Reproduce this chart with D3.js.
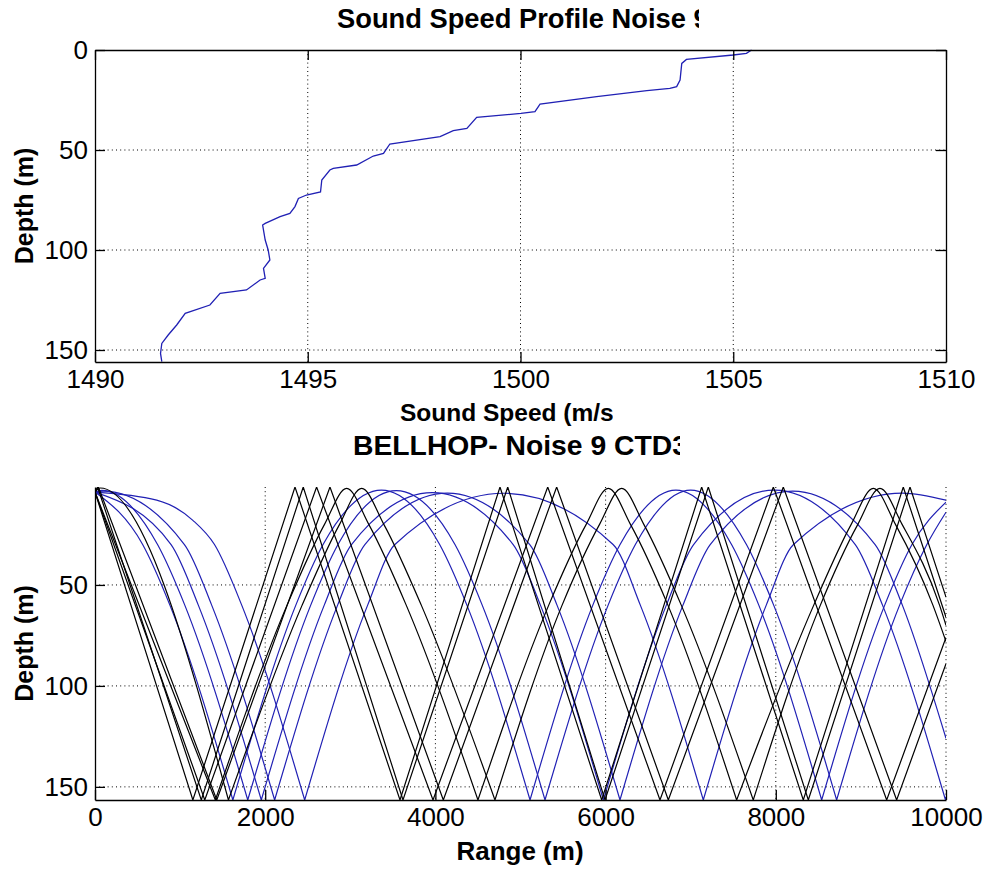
<!DOCTYPE html>
<html>
<head>
<meta charset="utf-8">
<script src="https://cdn.jsdelivr.net/npm/d3@7"></script>
<style>
  body { margin: 0; background: #fff; }
  svg text { font-family: "Liberation Sans", Arial, Helvetica, sans-serif; fill: #000; }
  .tick text { font-size: 26px; }
  .label { font-weight: bold; }
</style>
</head>
<body>
<div id="chart"></div>
<script>
// ---- sound speed profile ----
const sspDepth = [0, 1.7, 2.5, 4.7, 6.7, 15, 18.3, 19.2, 20.3, 23.3, 27, 28.3, 30.8, 31.7, 33.7, 39.2, 40.3, 43.3,
  47, 49.2, 51.7, 53, 57.5, 59.2, 60, 65, 71, 72.5, 74.2, 78.3, 81.7, 83.3, 86.7, 87.5, 95, 100, 105, 109.2,
  114.2, 115, 120, 121.7, 127.5, 131.7, 137.5, 142.5, 146.7, 151.7, 155.8];
const sspSpeed = [1505.43, 1505.31, 1505.0, 1503.9, 1503.79, 1503.75, 1503.67, 1503.51, 1502.97, 1501.79, 1500.46,
  1500.42, 1500.34, 1500.01, 1498.97, 1498.74, 1498.42, 1498.11, 1496.93, 1496.86, 1496.78, 1496.54, 1496.15,
  1495.6, 1495.52, 1495.33, 1495.3, 1494.97, 1494.78, 1494.7, 1494.58, 1494.35, 1494.0, 1493.94, 1494.0, 1494.07,
  1494.11, 1493.96, 1494.0, 1493.88, 1493.56, 1492.94, 1492.7, 1492.12, 1491.92, 1491.72, 1491.57, 1491.54, 1491.57];

const speedTicks = [1490, 1495, 1500, 1505, 1510];
const topDepthTicks = [0, 50, 100, 150];
const rangeTicks = [0, 2000, 4000, 6000, 8000, 10000];
const rayDepthTicks = [50, 100, 150];

// ---- BELLHOP rays: [range m, depth m] turning / shoulder points ----
const SURFACE = 1.5, BOTTOM = 156.5;

// surface + bottom reflected rays (black)
const blackRays = [
  [[0, 4], [1150, 156.5], [2350, 1.5], [3584, 156.5], [4759, 1.5], [5954, 156.5], [7129, 1.5], [8323, 156.5], [9498, 1.5], [10000, 66]],
  [[0, 4], [30, 1.5], [1249, 156.5], [2447, 1.5], [3619, 156.5], [4850, 1.5], [5993, 156.5], [7207, 1.5], [8382, 156.5], [9577, 1.5], [10000, 56]],
  [[0, 4], [1290, 156.5], [2604, 1.5], [3972, 156.5], [5320, 1.5], [6639, 156.5], [7971, 1.5], [9303, 156.5], [10000, 76]],
  [[0, 4], [40, 1.5], [1431, 156.5], [2761, 1.5], [4093, 156.5], [5425, 1.5], [6737, 156.5], [8088, 1.5], [9420, 156.5], [10000, 89]],
  [[0, 4], [1414, 156.5], [2257, 60], [2697, 20], [2957, 2.2], [3217, 20], [3657, 60], [4500, 156.5],
   [5332, 60], [5772, 20], [6032, 2.2], [6292, 20], [6732, 60], [7540, 156.5],
   [8446, 60], [8886, 20], [9146, 2.2], [9406, 20], [9846, 60], [10000, 78]],
  [[0, 4], [60, 2], [1568, 156.5], [2434, 60], [2874, 20], [3134, 2.2], [3394, 20], [3834, 60], [4700, 156.5],
   [5489, 60], [5929, 20], [6189, 2.2], [6449, 20], [6889, 60], [7735, 156.5],
   [8524, 60], [8964, 20], [9224, 2.2], [9484, 20], [9924, 60], [10000, 70]]
];

// bottom-only rays, refracted below the surface (blue)
const blueRays = [
  [[0, 4], [560, 30], [880, 60], [1620, 156.5],
   [2360, 60], [2680, 30], [3366, 3], [4050, 30], [4370, 60], [5112, 156.5],
   [5850, 60], [6170, 30], [6826, 3], [7480, 30], [7800, 60], [8539, 156.5],
   [9280, 60], [9600, 30], [10000, 9]],
  [[0, 4], [80, 3.2], [735, 30], [1055, 60], [1795, 156.5],
   [2535, 60], [2855, 30], [3541, 3.3], [4230, 30], [4550, 60], [5288, 156.5],
   [6030, 60], [6350, 30], [7000, 3], [7655, 30], [7975, 60], [8715, 156.5],
   [9455, 60], [9775, 30], [10000, 14]],
  [[0, 4], [894, 30], [1214, 60], [1954, 156.5],
   [2694, 60], [3014, 30], [3964, 4.3], [4914, 30], [5234, 60], [5974, 156.5],
   [6714, 60], [7034, 30], [7984, 3], [8934, 30], [9254, 60], [9994, 156.5], [10000, 155]],
  [[0, 4], [100, 3.5], [1051, 30], [1371, 60], [2111, 156.5],
   [2851, 60], [3171, 30], [4140, 4.5], [5109, 30], [5429, 60], [6169, 156.5],
   [6909, 60], [7229, 30], [8198, 3.5], [9167, 30], [9487, 60], [10000, 126]],
  [[0, 4], [725, 8], [1150, 18], [1404, 30], [1724, 60], [2464, 156.5],
   [3204, 60], [3524, 30], [4806, 4.6], [6088, 30], [6408, 60], [7148, 156.5],
   [7888, 60], [8208, 30], [9490, 4.5], [10000, 8]]
];

const BLUE = "#2020b4";

const svg = d3.select("#chart").append("svg")
  .attr("width", 986).attr("height", 871);

// ---------- upper panel: sound speed profile ----------
const x1 = d3.scaleLinear().domain([1490, 1510]).range([95, 946]);
const y1 = d3.scaleLinear().domain([0, 156]).range([50, 362]);

const upper = svg.append("g");

upper.selectAll(".vgrid").data(speedTicks.slice(1, -1)).enter().append("line")
  .attr("x1", d => x1(d)).attr("x2", d => x1(d))
  .attr("y1", y1.range()[0]).attr("y2", y1.range()[1])
  .attr("stroke", "#000").attr("stroke-dasharray", "1,3.2");
upper.selectAll(".hgrid").data(topDepthTicks.slice(1)).enter().append("line")
  .attr("y1", d => y1(d)).attr("y2", d => y1(d))
  .attr("x1", x1.range()[0]).attr("x2", x1.range()[1])
  .attr("stroke", "#000").attr("stroke-dasharray", "1,3.2");

upper.append("path")
  .datum(d3.zip(sspSpeed, sspDepth))
  .attr("fill", "none").attr("stroke", BLUE).attr("stroke-width", 1.3)
  .attr("d", d3.line().x(d => x1(d[0])).y(d => y1(d[1])));

upper.append("g").attr("transform", `translate(0,${y1.range()[1]})`)
  .call(d3.axisBottom(x1).tickValues(speedTicks).tickFormat(d3.format("d")).tickSize(-10).tickSizeOuter(0).tickPadding(8));
upper.append("g").attr("transform", `translate(0,${y1.range()[0]})`)
  .call(d3.axisTop(x1).tickValues(speedTicks).tickFormat("").tickSize(-10).tickSizeOuter(0));
upper.append("g").attr("transform", `translate(${x1.range()[0]},0)`)
  .call(d3.axisLeft(y1).tickValues(topDepthTicks).tickSize(-10).tickSizeOuter(0).tickPadding(7));
upper.append("g").attr("transform", `translate(${x1.range()[1]},0)`)
  .call(d3.axisRight(y1).tickValues(topDepthTicks).tickFormat("").tickSize(-10).tickSizeOuter(0));

// ---------- lower panel: ray trace ----------
const x2 = d3.scaleLinear().domain([0, 10000]).range([95, 946]);
const y2 = d3.scaleLinear().domain([SURFACE, BOTTOM]).range([487, 800]);

const lower = svg.append("g");

svg.append("clipPath").attr("id", "rayclip").append("rect")
  .attr("x", x2.range()[0]).attr("y", y2.range()[0])
  .attr("width", x2.range()[1] - x2.range()[0]).attr("height", y2.range()[1] - y2.range()[0]);

lower.selectAll(".vgrid").data(rangeTicks.slice(1)).enter().append("line")
  .attr("x1", d => x2(d)).attr("x2", d => x2(d))
  .attr("y1", y2.range()[0]).attr("y2", y2.range()[1])
  .attr("stroke", "#000").attr("stroke-dasharray", "1,3.2");
lower.selectAll(".hgrid").data(rayDepthTicks).enter().append("line")
  .attr("y1", d => y2(d)).attr("y2", d => y2(d))
  .attr("x1", x2.range()[0]).attr("x2", x2.range()[1])
  .attr("stroke", "#000").attr("stroke-dasharray", "1,3.2");

// split a ray at its boundary reflections so bounces stay sharp
function legs(pts) {
  const out = [];
  let cur = [pts[0]];
  for (let i = 1; i < pts.length; i++) {
    cur.push(pts[i]);
    const dep = pts[i][1];
    if ((dep <= SURFACE || dep >= BOTTOM) && i < pts.length - 1) {
      out.push(cur);
      cur = [pts[i]];
    }
  }
  out.push(cur);
  return out;
}
const rayLine = d3.line().x(d => x2(d[0])).y(d => y2(d[1])).curve(d3.curveMonotoneX);

const rays = lower.append("g").attr("clip-path", "url(#rayclip)");
rays.selectAll(".blue").data(blueRays).enter().append("path")
  .attr("fill", "none").attr("stroke", BLUE).attr("stroke-width", 1.2)
  .attr("d", d => legs(d).map(rayLine).join(""));
rays.selectAll(".black").data(blackRays).enter().append("path")
  .attr("fill", "none").attr("stroke", "#000").attr("stroke-width", 1.2)
  .attr("d", d => legs(d).map(rayLine).join(""));

lower.append("g").attr("transform", `translate(0,${y2.range()[1]})`)
  .call(d3.axisBottom(x2).tickValues(rangeTicks).tickFormat(d3.format("d")).tickSize(-10).tickSizeOuter(0).tickPadding(8));
lower.append("g").attr("transform", `translate(${x2.range()[0]},0)`)
  .call(d3.axisLeft(y2).tickValues(rayDepthTicks).tickSize(-10).tickSizeOuter(0).tickPadding(7));

svg.selectAll(".domain").attr("stroke", "#000").attr("stroke-width", 1.3);
svg.selectAll(".tick line").attr("stroke", "#000").attr("stroke-width", 1.3);
svg.selectAll(".tick text").attr("fill", "#000").style("font-size", "26px")
  .style("font-family", "'Liberation Sans', Arial, sans-serif");

// ---------- titles and labels (clipped like the original bitmap text) ----------
function clippedText(id, txt, x, y, clipRight, size) {
  svg.append("clipPath").attr("id", id).append("rect")
    .attr("x", 0).attr("y", 0).attr("width", clipRight).attr("height", 871);
  svg.append("text").attr("class", "label")
    .attr("clip-path", `url(#${id})`)
    .style("font-size", size + "px")
    .attr("x", x).attr("y", y).text(txt);
}
clippedText("c1", "Sound Speed Profile Noise 9", 337, 28, 699, 27.3);
clippedText("c2", "Sound Speed (m/s)", 400, 421, 613, 24.5);
clippedText("c3", "BELLHOP- Noise 9 CTD3", 353, 455, 680, 28.3);

svg.append("text").attr("class", "label").attr("text-anchor", "middle")
  .style("font-size", "26px")
  .attr("x", 520).attr("y", 860).text("Range (m)");
svg.append("text").attr("class", "label").attr("text-anchor", "middle")
  .style("font-size", "25px")
  .attr("transform", `translate(33,${(y1.range()[0] + y1.range()[1]) / 2}) rotate(-90)`).text("Depth (m)");
svg.append("text").attr("class", "label").attr("text-anchor", "middle")
  .style("font-size", "25px")
  .attr("transform", `translate(33,${(y2.range()[0] + y2.range()[1]) / 2}) rotate(-90)`).text("Depth (m)");
</script>
</body>
</html>
